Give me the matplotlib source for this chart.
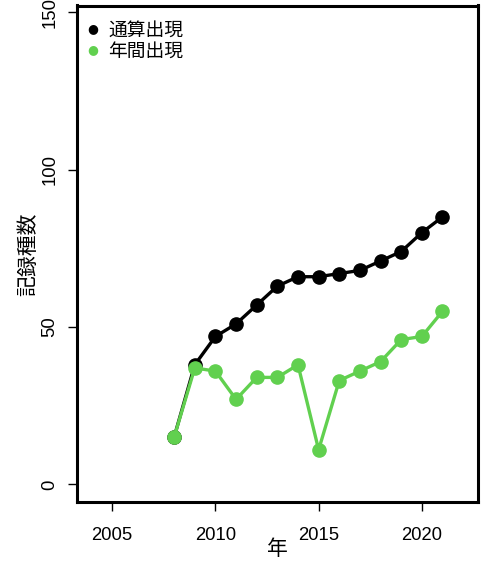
import matplotlib
matplotlib.use("Agg")
import matplotlib.pyplot as plt

plt.rcParams['font.family'] = ['Liberation Sans', 'Noto Sans CJK JP', 'DejaVu Sans']

years = [2008, 2009, 2010, 2011, 2012, 2013, 2014, 2015, 2016, 2017, 2018, 2019, 2020, 2021]
cumulative = [15, 38, 47, 51, 57, 63, 66, 66, 67, 68, 71, 74, 80, 85]
annual = [15, 37, 36, 27, 34, 34, 38, 11, 33, 36, 39, 46, 47, 55]
series_labels = ['通算出現', '年間出現']
xticks = [2005, 2010, 2015, 2020]
yticks = [0, 50, 100, 150]
xlabel = '年'
ylabel = '記録種数'

black = '#000000'
green = '#61D04F'

W, H = 488, 570
fig = plt.figure(figsize=(W / 100, H / 100), dpi=100)
L, R, T, B = 76.7, 478, 5.5, 502.3
ax = fig.add_axes([L / W, 1 - B / H, (R - L) / W, (B - T) / H])

ax.plot(years, cumulative, color=black, lw=2.4, marker='o', ms=9.5, zorder=3)
ax.plot(years, annual, color=green, lw=2.4, marker='o', ms=9.5, zorder=4)

ax.set_xlim(2003.28, 2022.72)
ax.set_ylim(-5.7, 152.2)
ax.set_xticks(xticks)
ax.set_yticks(yticks)
ax.set_xticklabels([str(v) for v in xticks], fontsize=13.3)
ax.set_yticklabels([str(v) for v in yticks], fontsize=13.3, rotation=90, va='center')
ax.tick_params(axis='x', direction='out', length=6.5, width=1.0, pad=11)
ax.tick_params(axis='y', direction='out', length=6.5, width=1.0, pad=6.5)
for s in ax.spines.values():
    s.set_linewidth(2.2)

ax.set_xlabel(xlabel, fontsize=15, family=['Noto Sans CJK JP'], labelpad=-4)
ax.set_ylabel(ylabel, fontsize=15, family=['Noto Sans CJK JP'], labelpad=2)

# legend
for i, (lab, col) in enumerate(zip(series_labels, [black, green])):
    y_pix = 29 + i * 21
    fig.text(93 / W, 1 - y_pix / H, '●', color=col, fontsize=9, ha='center', va='center',
             family=['DejaVu Sans'])
    fig.text(108 / W, 1 - (y_pix + 1) / H, lab, fontsize=13.5, ha='left', va='center',
             family=['Noto Sans CJK JP'])

fig.savefig('out.png', dpi=100)
